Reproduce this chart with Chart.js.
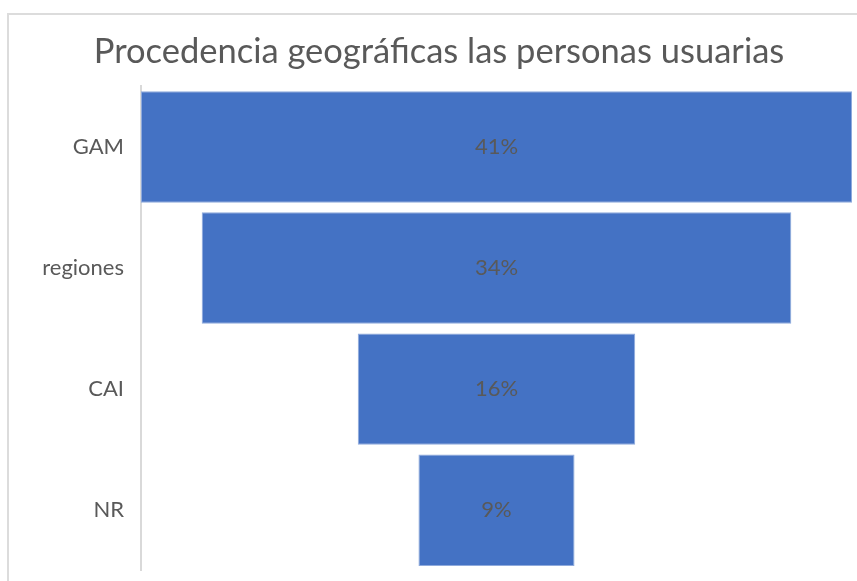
<!DOCTYPE html>
<html>
<head>
<meta charset="utf-8">
<script src="https://cdn.jsdelivr.net/npm/chart.js@4/dist/chart.umd.min.js"></script>
<style>
  html, body { margin: 0; padding: 0; background: #fff; overflow: hidden; }
  #wrap { position: absolute; left: 0; top: 0; width: 878px; height: 601px; }
</style>
</head>
<body>
<div id="wrap"><canvas id="c" width="878" height="601"></canvas></div>
<script>
const categories = ['GAM', 'regiones', 'CAI', 'NR'];
const values = [41, 34, 16, 9];
const valueLabels = ['41%', '34%', '16%', '9%'];
const chartTitle = 'Procedencia geográficas las personas usuarias';

const maxVal = Math.max(...values);
const funnelData = values.map(v => [(maxVal - v) / 2, (maxVal + v) / 2]);

const FONT = 'Lato, "Open Sans", sans-serif';
const TEXT = '#595959';

const framePlugin = {
  id: 'frame',
  beforeDraw(chart) {
    const ctx = chart.ctx;
    ctx.save();
    ctx.strokeStyle = '#dcdcdc';
    ctx.lineWidth = 2;
    ctx.beginPath();
    ctx.moveTo(8, 700);
    ctx.lineTo(8, 14);
    ctx.lineTo(900, 14);
    ctx.stroke();
    ctx.restore();
  }
};

const labelPlugin = {
  id: 'barLabels',
  afterDatasetsDraw(chart) {
    const ctx = chart.ctx;
    const meta = chart.getDatasetMeta(0);
    ctx.save();
    ctx.fillStyle = TEXT;
    ctx.font = '22px ' + FONT;
    ctx.textAlign = 'center';
    ctx.textBaseline = 'middle';
    meta.data.forEach((bar, i) => {
      const p = bar.getCenterPoint();
      ctx.fillText(valueLabels[i], p.x, p.y);
    });
    ctx.restore();
  }
};

new Chart(document.getElementById('c'), {
  type: 'bar',
  data: {
    labels: categories,
    datasets: [{
      data: funnelData,
      backgroundColor: '#4472C4',
      borderColor: '#8FAADC',
      borderWidth: 1,
      borderSkipped: false,
      categoryPercentage: 1,
      barPercentage: 0.92
    }]
  },
  options: {
    indexAxis: 'y',
    responsive: false,
    animation: false,
    layout: { padding: { left: 26, right: 26, top: 14, bottom: 10.5 } },
    plugins: {
      legend: { display: false },
      tooltip: { enabled: false },
      title: {
        display: true,
        text: chartTitle,
        color: TEXT,
        font: { family: FONT, size: 34.5, weight: 'normal' },
        padding: { top: 17, bottom: 14 }
      }
    },
    scales: {
      x: {
        display: false,
        min: 0,
        max: maxVal
      },
      y: {
        grid: { display: false, drawTicks: false },
        border: { display: true, color: '#d9d9d9', width: 2 },
        ticks: {
          color: TEXT,
          font: { family: FONT, size: 22 },
          padding: 17
        },
        afterFit(scale) { scale.width = 115; }
      }
    }
  },
  plugins: [framePlugin, labelPlugin]
});
</script>
</body>
</html>
